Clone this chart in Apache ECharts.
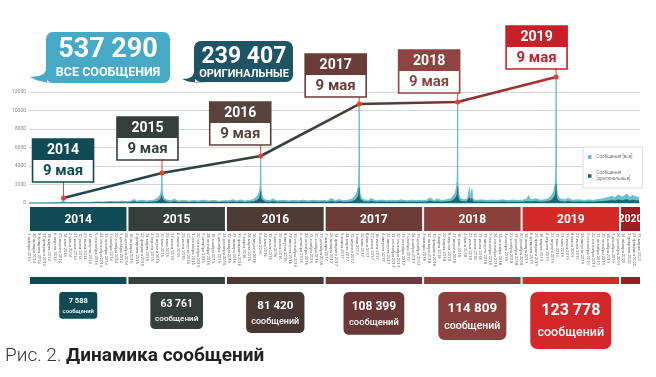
<!DOCTYPE html>
<html><head><meta charset="utf-8">
<script src="https://cdn.jsdelivr.net/npm/echarts@6/dist/echarts.min.js"></script>
<style>html,body{margin:0;padding:0;background:#fff}#c{width:656px;height:377px}</style>
</head><body><div id="c"></div>
<script>
// ---------- DATA ----------
const years = ['2014','2015','2016','2017','2018','2019','2020'];
const yearTotals = [7588, 63761, 81420, 108399, 114809, 123778];
const peakDates = ['2014-05-09','2015-05-09','2016-05-09','2017-05-09','2018-05-09','2019-05-09'];
const peakValues = [540, 3240, 5080, 10700, 10920, 13620];
const peakLabel = '9 мая';
const totalAll = 537290;
const totalOrig = 239407;
const legendNames = ['Сообщения [все]', 'Сообщения [оригинальные]'];
const monthsGen = ['января','февраля','марта','апреля','мая','июня','июля','августа','сентября','октября','ноября','декабря'];
const axisStart = '2014-01-01';
const axisEnd = '2020-03-15';

const spikeDates = [
'2014-01-01','2014-03-01','2014-04-15','2014-05-03','2014-05-08','2014-05-09','2014-05-10','2014-05-20','2014-06-20','2014-07-25','2014-08-20','2014-09-12','2014-10-05','2014-10-28','2014-11-20','2014-12-12','2014-12-28',
'2015-01-15','2015-01-27','2015-02-05','2015-02-23','2015-03-12','2015-03-30','2015-04-12','2015-04-24','2015-05-01','2015-05-05','2015-05-07','2015-05-08','2015-05-09','2015-05-10','2015-05-12','2015-05-17','2015-05-26','2015-06-12','2015-06-22','2015-07-08','2015-07-28','2015-08-18','2015-09-03','2015-09-22','2015-10-10','2015-10-30','2015-11-18','2015-12-06','2015-12-24',
'2016-01-12','2016-01-27','2016-02-10','2016-02-23','2016-03-10','2016-03-28','2016-04-12','2016-04-24','2016-05-01','2016-05-05','2016-05-07','2016-05-08','2016-05-09','2016-05-10','2016-05-12','2016-05-17','2016-05-26','2016-06-12','2016-06-22','2016-07-10','2016-07-30','2016-08-20','2016-09-05','2016-09-25','2016-10-12','2016-11-01','2016-11-20','2016-12-08','2016-12-26',
'2017-01-12','2017-01-27','2017-02-10','2017-02-23','2017-03-10','2017-03-28','2017-04-12','2017-04-24','2017-05-01','2017-05-05','2017-05-07','2017-05-08','2017-05-09','2017-05-10','2017-05-12','2017-05-17','2017-05-26','2017-06-12','2017-06-22','2017-07-10','2017-07-30','2017-08-20','2017-09-05','2017-09-25','2017-10-12','2017-11-01','2017-11-20','2017-12-08','2017-12-26',
'2018-01-12','2018-01-27','2018-02-10','2018-02-23','2018-03-10','2018-03-28','2018-04-12','2018-04-24','2018-05-01','2018-05-05','2018-05-07','2018-05-08','2018-05-09','2018-05-10','2018-05-12','2018-05-17','2018-05-26','2018-06-10','2018-06-16','2018-06-22','2018-06-25','2018-07-01','2018-07-04','2018-07-15','2018-08-05','2018-08-25','2018-09-12','2018-10-02','2018-10-22','2018-11-10','2018-11-30','2018-12-18',
'2019-01-05','2019-01-20','2019-01-27','2019-02-03','2019-02-23','2019-03-12','2019-03-28','2019-04-12','2019-04-24','2019-05-01','2019-05-05','2019-05-07','2019-05-08','2019-05-09','2019-05-10','2019-05-12','2019-05-17','2019-05-26','2019-06-12','2019-06-22','2019-07-10','2019-07-30','2019-08-20','2019-09-05','2019-09-25','2019-10-12','2019-11-01','2019-11-20','2019-12-03','2019-12-12','2019-12-24',
'2020-01-10','2020-01-27','2020-02-05','2020-02-18','2020-03-01','2020-03-12'
];
const spikeAll = [
0,10,30,90,220,540,160,60,50,90,70,130,110,170,140,200,150,
220,380,200,300,220,260,340,560,800,1100,1550,2150,3240,1450,800,480,340,240,420,210,280,200,260,220,300,210,280,200,250,
230,360,210,340,220,280,380,660,960,1300,1850,2650,5080,1750,900,520,340,260,440,230,300,220,280,230,310,220,290,230,270,
240,480,230,380,250,300,420,760,1150,1650,2350,3350,10700,2250,1050,580,360,280,480,250,320,240,310,260,340,240,310,260,300,
260,560,250,440,280,340,460,800,1200,1750,2450,3550,10920,2350,1100,600,380,340,660,1700,460,1500,410,290,340,260,320,270,340,260,320,280,
310,410,820,340,460,300,360,500,860,1300,1900,2650,3950,13620,2550,1200,650,410,320,520,290,360,280,340,290,380,460,610,760,560,860,
660,960,610,810,660,560
];
const spikeOrig = [
0,5,15,35,80,180,60,25,20,35,30,50,45,70,60,80,60,
80,150,70,110,80,100,130,220,340,480,650,850,1050,600,340,190,130,90,160,80,110,75,100,80,120,80,110,75,95,
85,140,80,130,85,110,150,260,410,560,760,1000,1250,700,380,210,130,100,170,90,120,85,110,90,120,85,110,90,105,
95,190,90,150,100,120,170,310,480,700,960,1260,1650,900,440,230,140,110,190,100,130,95,120,100,130,95,120,100,120,
100,230,100,170,110,130,190,330,510,740,1000,1350,1750,950,460,240,150,130,270,580,190,520,170,110,130,100,120,105,130,100,120,110,
120,160,320,130,180,120,140,200,350,560,810,1100,1550,2050,1050,500,260,170,120,210,110,140,110,130,110,150,180,250,310,230,350,
270,390,250,330,270,230
];

// ---------- STYLE ----------
const bandColors = ['#0f4a56','#363f3b','#4d3a35','#6b3b37','#8b403c','#d42a27','#9b1d1d'];
const boxColors  = ['#0f4a56','#363f3b','#5a423c','#6b3b37','#8e4440','#c81f29'];
const bubbleColors = ['#0f4a56','#353e3a','#483733','#6a3937','#8c403d','#d3282a'];
const bubbleScale = [0.47, 0.65, 0.72, 0.75, 0.84, 1];
const boxOffsets = [[-31,16],[-45,13],[-51,11],[-54,7],[-59,9],[-50,8]];
const FONT = 'Roboto';

// ---------- BUILD ----------
const DAY = 86400000;
function utc(s){const p=s.split('-').map(Number);return Date.UTC(p[0],p[1]-1,p[2]);}
const BASE = utc(axisStart);
function dayOf(s){return (utc(s)-BASE)/DAY;}
const X_MAX = dayOf(axisEnd);
function fmtNum(n){return String(n).replace(/\B(?=(\d{3})+(?!\d))/g,' ');}
function fmtDate(v){const d=new Date(BASE+v*DAY);return d.getUTCDate()+' '+monthsGen[d.getUTCMonth()]+' '+d.getUTCFullYear();}

const allData = spikeDates.map((d,i)=>[dayOf(d), spikeAll[i]]);
const origData = spikeDates.map((d,i)=>[dayOf(d), spikeOrig[i]]);
const peakData = peakDates.map((d,i)=>[dayOf(d), peakValues[i], i]);
const bandData = years.map((y,i)=>[dayOf(y+'-01-01'), i<years.length-1?dayOf(years[i+1]+'-01-01'):X_MAX, i]);

const chart = echarts.init(document.getElementById('c'), null, {renderer:'canvas'});
const gridL = 29, gridR = 16;

const option = {
  animation:false,
  backgroundColor:'#fff',
  textStyle:{fontFamily:FONT},
  grid:[
    {left:gridL, right:gridR, top:92, height:111},
    {left:gridL, right:gridR, top:207, height:24},
    {left:gridL, right:gridR, top:277, height:7}
  ],
  xAxis:[
    {type:'value', gridIndex:0, min:0, max:X_MAX, show:false},
    {type:'value', gridIndex:1, min:0, max:X_MAX, interval:19, position:'bottom',
     axisLine:{show:false}, axisTick:{show:false}, splitLine:{show:false},
     axisLabel:{rotate:-90, fontSize:4.2, color:'#6f6f6f', margin:2, fontFamily:FONT, formatter:fmtDate, showMaxLabel:false}},
    {type:'value', gridIndex:2, min:0, max:X_MAX, show:false}
  ],
  yAxis:[
    {type:'value', gridIndex:0, min:0, max:12000, interval:2000,
     axisLine:{show:false}, axisTick:{show:false},
     axisLabel:{fontSize:5, color:'#8a8a8a', margin:3, fontFamily:FONT, formatter:function(v){return String(v);}},
     splitLine:{lineStyle:{color:'#d6d6d6', width:1}}},
    {type:'value', gridIndex:1, min:0, max:1, show:false},
    {type:'value', gridIndex:2, min:0, max:1, show:false}
  ],
  legend:{
    data:legendNames, orient:'vertical', left:583, top:147, icon:'rect',
    itemWidth:3.5, itemHeight:3.5, itemGap:10,
    padding:[7,10,6,5], backgroundColor:'#fff', borderColor:'#dcdcdc', borderWidth:1,
    textStyle:{fontSize:4.6, color:'#777', fontFamily:FONT, lineHeight:6},
    formatter:function(n){return n===legendNames[1]?'Сообщения\n[оригинальные]':n;}
  },
  series:[
    {name:legendNames[0], type:'line', xAxisIndex:0, yAxisIndex:0, data:allData, clip:false,
     showSymbol:false, symbol:'none', z:2,
     lineStyle:{width:0.8, color:'#59b6cb'}, itemStyle:{color:'#59b6cb'},
     areaStyle:{color:'#6dc1d4', opacity:1}},
    {name:legendNames[1], type:'line', xAxisIndex:0, yAxisIndex:0, data:origData, clip:false,
     showSymbol:false, symbol:'none', z:3,
     lineStyle:{width:0.5, color:'#1c5c6a'}, itemStyle:{color:'#1c5c6a'},
     areaStyle:{color:'#1f6272', opacity:1}},
    {type:'custom', xAxisIndex:0, yAxisIndex:0, data:peakData, clip:false, z:4,
     renderItem:function(params, api){
       const i = api.value(2);
       const p = api.coord([api.value(0), api.value(1)]);
       const off = boxOffsets[i];
       const w=61, hh=21, hb=22;
       const bottom = p[1]-off[1];
       const top = bottom-hh-hb;
       const left = p[0]+off[0];
       const c = boxColors[i];
       return {type:'group', children:[
         {type:'line', shape:{x1:p[0],y1:p[1],x2:p[0],y2:bottom}, style:{stroke:'#e2413a', lineWidth:1}},
         {type:'rect', shape:{x:left,y:top,width:w,height:hh+hb}, style:{fill:'#fff', stroke:c, lineWidth:1.6}},
         {type:'rect', shape:{x:left,y:top,width:w,height:hh}, style:{fill:c}},
         {type:'text', style:{x:left+w/2, y:top+hh/2+1, text:years[i], fill:'#fff', font:'bold 14px '+FONT, align:'center', verticalAlign:'middle'}},
         {type:'text', style:{x:left+w/2, y:top+hh+hb/2, text:peakLabel, fill:c, font:'bold 15px '+FONT, align:'center', verticalAlign:'middle'}}
       ]};
     }},
    {type:'line', xAxisIndex:0, yAxisIndex:0, data:peakData.map(d=>[d[0],d[1]]), clip:false, z:5,
     symbol:'circle', symbolSize:5, itemStyle:{color:'#e8412f'},
     lineStyle:{width:2.6, color:{type:'linear', x:0, y:0, x2:1, y2:0, colorStops:[
       {offset:0,color:'#1b4a50'},{offset:0.4,color:'#33403d'},{offset:0.7,color:'#5e3a36'},{offset:1,color:'#c2282b'}]}}},
    {type:'custom', xAxisIndex:1, yAxisIndex:1, data:bandData, z:2, clip:false,
     renderItem:function(params, api){
       const cs = params.coordSys;
       const x0 = api.coord([api.value(0),0])[0], x1 = api.coord([api.value(1),0])[0];
       const i = api.value(2);
       const last = (i===years.length-1);
       const l = x0+1, r = last ? x1 : x1-1;
       return {type:'group', children:[
         {type:'rect', shape:{x:l,y:cs.y,width:r-l,height:cs.height}, style:{fill:bandColors[i]}},
         {type:'text', style:{x:(l+r)/2, y:cs.y+cs.height/2+0.5, text:years[i], fill:'#fff', font:'bold '+(last?10.5:12)+'px '+FONT, align:'center', verticalAlign:'middle'}}
       ]};
     }},
    {type:'custom', xAxisIndex:2, yAxisIndex:2, data:bandData, z:2, clip:false,
     renderItem:function(params, api){
       const cs = params.coordSys;
       const x0 = api.coord([api.value(0),0])[0], x1 = api.coord([api.value(1),0])[0];
       const i = api.value(2);
       const l = x0+1, r = (i===years.length-1)? x1 : x1-1;
       const ch = [{type:'rect', shape:{x:l,y:cs.y,width:r-l,height:cs.height}, style:{fill:bandColors[i]}}];
       if (i < yearTotals.length){
         const s = bubbleScale[i];
         const bw = 81*s, bh = 57*s, cx = (l+r)/2, top = cs.y+cs.height+8;
         ch.push({type:'rect', shape:{x:cx-bw/2, y:top, width:bw, height:bh, r:7*s}, style:{fill:bubbleColors[i]}});
         ch.push({type:'text', style:{x:cx, y:top+bh*0.34, text:fmtNum(yearTotals[i]), fill:'#fff', font:'bold '+(16*s)+'px '+FONT, align:'center', verticalAlign:'middle'}});
         ch.push({type:'text', style:{x:cx, y:top+bh*0.72, text:'сообщений', fill:'#fff', font:'500 '+(12.5*s)+'px '+FONT, align:'center', verticalAlign:'middle'}});
       }
       return {type:'group', children:ch};
     }}
  ],
  graphic:[
    {type:'polygon', shape:{points:[[47,62],[46.5,69],[44,73.5],[39,76],[30,77],[36,80],[44,82],[52,83],[62,83],[47,83]]}, style:{fill:'#46a9c5'}},
    {type:'rect', shape:{x:46,y:32,width:124,height:51,r:7}, style:{fill:'#46a9c5'}},
    {type:'text', style:{x:108, y:50, text:fmtNum(totalAll), fill:'#fff', font:'bold 27px '+FONT, align:'center', verticalAlign:'middle'}},
    {type:'text', style:{x:108, y:73, text:'ВСЕ СООБЩЕНИЯ', fill:'#fff', font:'bold 12.5px '+FONT, align:'center', verticalAlign:'middle'}},
    {type:'polygon', shape:{points:[[195,66],[194.5,72],[192,76.5],[188,78.5],[182,79],[188,81.5],[196,82.5],[208,82],[195,82]]}, style:{fill:'#1d5566'}},
    {type:'rect', shape:{x:194,y:41,width:99,height:41,r:7}, style:{fill:'#1d5566'}},
    {type:'text', style:{x:244, y:57, text:fmtNum(totalOrig), fill:'#fff', font:'bold 23px '+FONT, align:'center', verticalAlign:'middle'}},
    {type:'text', style:{x:244, y:74.5, text:'ОРИГИНАЛЬНЫЕ', fill:'#fff', font:'bold 11px '+FONT, align:'center', verticalAlign:'middle'}},
    {type:'text', left:5, top:347, style:{text:'{a|Рис. 2. }{b|Динамика сообщений}',
      rich:{a:{fontFamily:FONT, fontSize:19, fontWeight:300, fill:'#333'},
            b:{fontFamily:FONT, fontSize:19, fontWeight:'bold', fill:'#222'}}}}
  ]
};
chart.setOption(option);
</script>
</body></html>
